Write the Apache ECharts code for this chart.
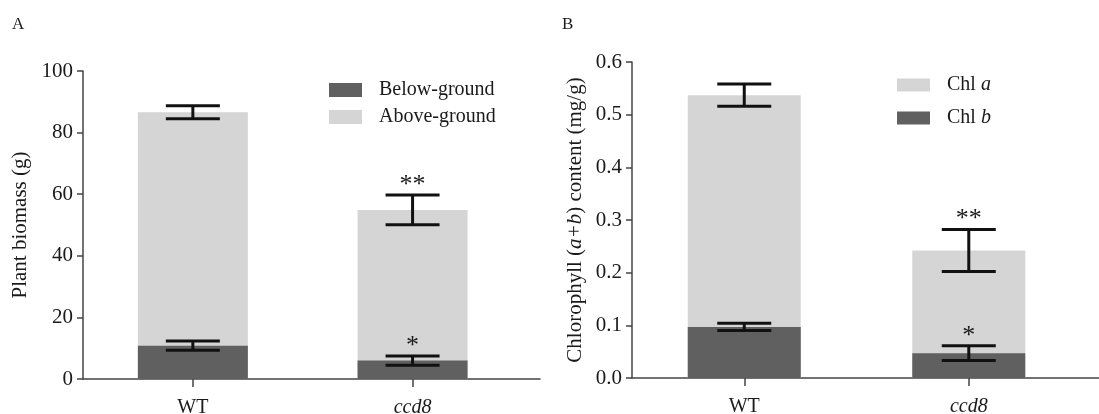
<!DOCTYPE html>
<html>
<head>
<meta charset="UTF-8">
<title></title>
<style>
	html, body { margin: 0; padding: 0; background: #fff; }
	#main { width: 1099px; height: 414px; }
</style>
</head>
<body>
<div id="main"></div>
<script src="https://cdn.jsdelivr.net/npm/echarts@6/dist/echarts.min.js"></script>
<script>
	// 数据
	var categories = ['WT', 'ccd8'];
	var catPos = [0.5, 1.5];

	// A: plant biomass (g)
	var belowGround = [10.8, 6.0];
	var aboveGround = [75.8, 48.9];
	var belowErr = [1.5, 1.5];
	var totalErrA = [2.1, 4.8];
	var belowSig = ['', '*'];
	var totalSigA = ['', '**'];

	// B: chlorophyll content (mg/g)
	var chlB = [0.097, 0.047];
	var chlA = [0.440, 0.195];
	var chlBErr = [0.007, 0.014];
	var totalErrB = [0.021, 0.040];
	var chlBSig = ['', '*'];
	var totalSigB = ['', '**'];

	var dark = '#5f605f';
	var light = '#d4d5d4';
	var ink = '#1a1a1a';
	var font = '"Liberation Serif", "DejaVu Serif", serif';

	function pts(vals) {
		var out = [];
		for (var i = 0; i < vals.length; i++) out.push([catPos[i], vals[i]]);
		return out;
	}

	// 上层柱子画到累计高度, 下层柱子盖在上面
	function stackPts(base, add) {
		var out = [];
		for (var i = 0; i < base.length; i++) out.push([catPos[i], base[i] + add[i]]);
		return out;
	}

	function errData(base, add, err) {
		var out = [];
		for (var i = 0; i < base.length; i++) {
			out.push([catPos[i], base[i] + (add ? add[i] : 0), err[i]]);
		}
		return out;
	}

	function errSeries(xi, data, sig) {
		return {
			type: 'custom',
			xAxisIndex: xi,
			yAxisIndex: xi,
			z: 10,
			clip: false,
			data: data,
			renderItem: function(params, api) {
				var x = api.value(0), c = api.value(1), e = api.value(2);
				var hi = api.coord([x, c + e]);
				var lo = api.coord([x, c - e]);
				var half = 27;
				var st = { stroke: '#111', lineWidth: 3 };
				var kids = [
					{ type: 'line', shape: { x1: hi[0], y1: hi[1], x2: lo[0], y2: lo[1] }, style: st },
					{ type: 'line', shape: { x1: hi[0] - half, y1: hi[1], x2: hi[0] + half, y2: hi[1] }, style: st },
					{ type: 'line', shape: { x1: lo[0] - half, y1: lo[1], x2: lo[0] + half, y2: lo[1] }, style: st }
				];
				var s = sig[params.dataIndex];
				if (s) {
					kids.push({
						type: 'text',
						style: {
							x: hi[0], y: hi[1] - 23, text: s,
							fill: ink, font: '26px ' + font,
							align: 'center', verticalAlign: 'top'
						}
					});
				}
				return { type: 'group', children: kids };
			}
		};
	}

	function xAxisOf(gi) {
		return {
			type: 'value',
			gridIndex: gi,
			min: 0,
			max: 2.08,
			splitLine: { show: false },
			axisLine: { show: true, lineStyle: { color: '#444', width: 1.5 } },
			axisTick: { show: true, length: 8, customValues: catPos, lineStyle: { color: '#444', width: 1.5 } },
			axisLabel: {
				customValues: catPos,
				margin: 19,
				color: ink,
				fontFamily: font,
				fontSize: 20,
				formatter: function(v) {
					var name = categories[Math.round(v - 0.5)];
					return name === 'WT' ? name : '{i|' + name + '}';
				},
				rich: { i: { fontStyle: 'italic', fontFamily: font, fontSize: 20, color: ink } }
			}
		};
	}

	function yAxisOf(gi, max, step, name, gap, fmt) {
		return {
			type: 'value',
			gridIndex: gi,
			min: 0,
			max: max,
			interval: step,
			name: name,
			nameLocation: 'middle',
			nameGap: gap,
			nameTextStyle: {
				color: ink, fontFamily: font, fontSize: 21,
				rich: { i: { fontStyle: 'italic', fontFamily: font, fontSize: 21, color: ink } }
			},
			splitLine: { show: false },
			axisLine: { show: true, lineStyle: { color: '#444', width: 1.5 } },
			axisTick: { show: true, length: 6, lineStyle: { color: '#444', width: 1.5 } },
			axisLabel: { color: ink, fontFamily: font, fontSize: 21, margin: 10, formatter: fmt }
		};
	}

	var myChart = echarts.init(document.getElementById('main'));

	var option = {
		animation: false,
		backgroundColor: '#fff',
		graphic: [
			{ type: 'text', left: 12, top: 16, style: { text: 'A', font: '17px ' + font, fill: ink } },
			{ type: 'text', left: 562, top: 16, style: { text: 'B', font: '17px ' + font, fill: ink } }
		],
		grid: [
			{ left: 83, right: 559, top: 71, bottom: 35, outerBoundsMode: 'none', containLabel: false },
			{ left: 632, right: 0, top: 62, bottom: 36, outerBoundsMode: 'none', containLabel: false }
		],
		legend: [
			{
				orient: 'vertical', left: 324, top: 75,
				itemWidth: 33, itemHeight: 14, itemGap: 7,
				icon: 'rect',
				data: ['Below-ground', 'Above-ground'],
				textStyle: { color: ink, fontFamily: font, fontSize: 20, padding: [0, 0, 0, 12] }
			},
			{
				orient: 'vertical', left: 892, top: 70,
				itemWidth: 33, itemHeight: 13, itemGap: 13,
				icon: 'rect',
				data: ['Chl a', 'Chl b'],
				formatter: function(n) { return 'Chl {i|' + n.split(' ')[1] + '}'; },
				textStyle: {
					color: ink, fontFamily: font, fontSize: 20, padding: [0, 0, 0, 12],
					rich: { i: { fontStyle: 'italic', fontFamily: font, fontSize: 20, color: ink } }
				}
			}
		],
		xAxis: [xAxisOf(0), xAxisOf(1)],
		yAxis: [
			yAxisOf(0, 100, 20, 'Plant biomass (g)', 52, null),
			yAxisOf(1, 0.6, 0.1, 'Chlorophyll ({i|a+b}) content (mg/g)', 46, function(v) { return v.toFixed(1); })
		],
		series: [
			{ name: 'Above-ground', type: 'bar', xAxisIndex: 0, yAxisIndex: 0, barWidth: 110, barGap: '-100%', data: stackPts(belowGround, aboveGround), itemStyle: { color: light } },
			{ name: 'Below-ground', type: 'bar', xAxisIndex: 0, yAxisIndex: 0, barWidth: 110, barGap: '-100%', data: pts(belowGround), itemStyle: { color: dark } },
			{ name: 'Chl a', type: 'bar', xAxisIndex: 1, yAxisIndex: 1, barWidth: 113, barGap: '-100%', data: stackPts(chlB, chlA), itemStyle: { color: light } },
			{ name: 'Chl b', type: 'bar', xAxisIndex: 1, yAxisIndex: 1, barWidth: 113, barGap: '-100%', data: pts(chlB), itemStyle: { color: dark } },
			errSeries(0, errData(belowGround, null, belowErr), belowSig),
			errSeries(0, errData(belowGround, aboveGround, totalErrA), totalSigA),
			errSeries(1, errData(chlB, null, chlBErr), chlBSig),
			errSeries(1, errData(chlB, chlA, totalErrB), totalSigB)
		]
	};
	myChart.setOption(option);
</script>
</body>
</html>
